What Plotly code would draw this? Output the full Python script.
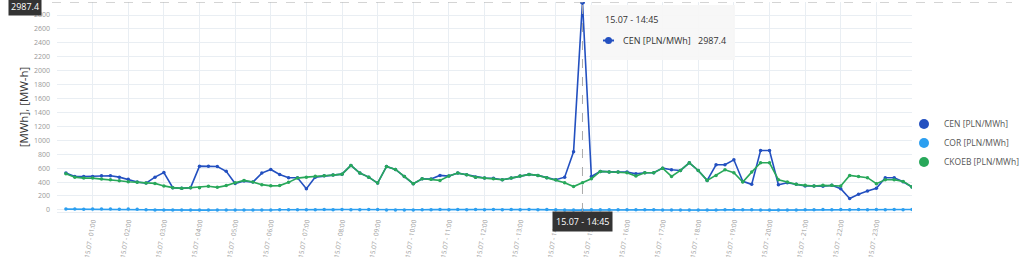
import plotly.graph_objects as go
import pandas as pd

# ---------------- data ----------------
day = "2024-07-15"
times = pd.date_range(f"{day} 00:15", periods=96, freq="15min")

cen = [529, 481, 481, 481, 491, 491, 471, 439, 400, 386, 471, 536,
       320, 310, 320, 629, 629, 624, 555, 380, 414, 400, 529, 581,
       510, 463, 463, 305, 471, 491, 500, 514, 639, 529, 471, 385,
       624, 581, 481, 377, 448, 445, 496, 486, 529, 505, 471, 458,
       455, 434, 457, 486, 510, 496, 463, 434, 470, 836, 2987.4, 481,
       553, 543, 543, 543, 520, 534, 534, 600, 577, 567, 677, 567,
       424, 648, 648, 720, 410, 367, 853, 853, 362, 391, 367, 343,
       343, 339, 353, 305, 163, 224, 272, 310, 463, 463, 405, 329]

cor = [12, 12, 11, 12, 12, 12, 11, 12, 10, 2, 0, -2,
       -3, -2, -3, -2, -3, -2, -3, -2, -3, -2, -3, -2,
       2, 4, 3, 2, 4, 5, 4, 5, 4, 1, 5, 6,
       -1, -2, -3, -2, 3, 4, 5, 4, 5, 4, 5, 4,
       5, 4, 5, 4, 5, 4, 5, 3, -2, -3, -2, 4,
       3, 4, 3, 4, 3, 4, 2, -1, -2, -3, -2, -3,
       -2, -3, 3, 4, 3, 4, -2, -3, -2, -3, -2, 2,
       4, 5, 4, 5, 4, 5, 4, 5, 4, 5, 4, 5]

ckoeb = [519, 471, 457, 457, 443, 434, 420, 405, 396, 386, 381, 345,
         320, 310, 320, 320, 339, 324, 349, 391, 424, 400, 363, 346,
         349, 396, 457, 471, 485, 491, 500, 514, 639, 529, 471, 385,
         624, 581, 481, 377, 448, 439, 424, 486, 529, 505, 471, 457,
         448, 434, 457, 486, 510, 496, 463, 434, 390, 335, 391, 448,
         553, 543, 543, 534, 486, 534, 534, 600, 481, 567, 677, 567,
         424, 496, 577, 534, 400, 543, 677, 677, 434, 400, 367, 353,
         343, 353, 353, 343, 496, 481, 463, 377, 434, 434, 410, 329]

series_names = ["CEN [PLN/MWh]", "COR [PLN/MWh]", "CKOEB [PLN/MWh]"]
series_colors = ["#2350c0", "#2c9ff0", "#28a85a"]

hour_ticks = pd.date_range(f"{day} 01:00", periods=23, freq="1h")
tick_text = [f"15.07 - {t:%H:%M}" for t in hour_ticks]
y_ticks = list(range(0, 3000, 200))

hover_idx = 58
hover_time = times[hover_idx]
hover_label = f"15.07 - {hover_time:%H:%M}"
hover_val = cen[hover_idx]

# ---------------- figure ----------------
W, H = 1024, 260
ML, MR, MT, MB = 57, 112, 2, 48
PW, PH = W - ML - MR, H - MT - MB


def px(xpix):
    return (xpix - ML) / PW


def py(ypix):
    return (H - MB - ypix) / PH


fig = go.Figure()
FONT = "Open Sans"

for vals, name, col in zip([cen, cor, ckoeb], series_names, series_colors):
    fig.add_trace(go.Scatter(
        x=times, y=vals, mode="lines+markers", name=name,
        line=dict(color=col, width=1.6),
        marker=dict(color=col, size=3.5),
        showlegend=False, hoverinfo="skip"))

# legend entries (circle only)
for name, col in zip(series_names, series_colors):
    fig.add_trace(go.Scatter(
        x=[None], y=[None], mode="markers", name=name,
        marker=dict(color=col, size=10), showlegend=True))

# highlighted hover point
fig.add_trace(go.Scatter(
    x=[hover_time], y=[hover_val], mode="markers",
    marker=dict(color=series_colors[0], size=5),
    showlegend=False, hoverinfo="skip"))

grid = "#e9eef3"
fig.update_layout(
    width=W, height=H,
    margin=dict(l=ML, r=MR, t=MT, b=MB, autoexpand=False),
    paper_bgcolor="white", plot_bgcolor="white",
    font=dict(family=FONT, color="#888"),
    showlegend=True,
    legend=dict(x=px(904), y=py(143), xanchor="left", yanchor="middle",
                font=dict(size=8.5, color="#555", family=FONT),
                itemwidth=30, tracegroupgap=0, bgcolor="rgba(0,0,0,0)"),
    xaxis=dict(
        type="date",
        range=[pd.Timestamp(f"{day} 00:00"), pd.Timestamp(f"{day} 00:00") + pd.Timedelta(hours=24)],
        tickmode="array", tickvals=hour_ticks, ticktext=tick_text,
        tickangle=-80, tickfont=dict(size=6.5, color="#999", family=FONT),
        showgrid=True, gridcolor=grid, gridwidth=1,
        showline=True, linecolor=grid, mirror=False,
        zeroline=False, ticks="", automargin=False, ticklabelstandoff=2),
    yaxis=dict(
        range=[-30, 2987.4],
        tickmode="array", tickvals=y_ticks,
        tickfont=dict(size=7, color="#999", family=FONT),
        showgrid=True, gridcolor=grid, gridwidth=1,
        zeroline=False, ticks="", automargin=False, ticklabelstandoff=6,
        title=dict(text="[MWh], [MW-h]", font=dict(size=11.5, color="#333", family=FONT),
                   standoff=2)),
)

# crosshair lines
fig.add_shape(type="line", xref="x", yref="paper", x0=hover_time, x1=hover_time,
              y0=0, y1=1, line=dict(color="#aaa", width=1, dash="dash"), layer="above")
fig.add_shape(type="line", xref="paper", yref="y", x0=px(52), x1=px(1012),
              y0=hover_val, y1=hover_val, line=dict(color="#aaa", width=1, dash="dash"), layer="above")

# tooltip box
fig.add_shape(type="rect", xref="paper", yref="paper",
              x0=px(590), x1=px(735), y0=py(60), y1=py(5),
              fillcolor="rgba(246,246,246,0.92)", line=dict(width=0), layer="above")
fig.add_annotation(xref="paper", yref="paper", x=px(603), y=py(19), text=hover_label,
                   showarrow=False, xanchor="left", yanchor="middle",
                   font=dict(size=9, color="#333", family=FONT))
fig.add_shape(type="line", xref="paper", yref="paper", x0=px(603), x1=px(614),
              y0=py(40.5), y1=py(40.5), line=dict(color=series_colors[0], width=2), layer="above")
fig.add_shape(type="circle", xref="paper", yref="paper", x0=px(605), x1=px(612),
              y0=py(44), y1=py(37), fillcolor=series_colors[0],
              line=dict(width=0), layer="above")
fig.add_annotation(xref="paper", yref="paper", x=px(621), y=py(40.5), text=series_names[0],
                   showarrow=False, xanchor="left", yanchor="middle",
                   font=dict(size=9, color="#333", family=FONT))
fig.add_annotation(xref="paper", yref="paper", x=px(696), y=py(40.5), text=f"{hover_val}",
                   showarrow=False, xanchor="left", yanchor="middle",
                   font=dict(size=9, color="#333", family=FONT))

# crosshair axis labels
fig.add_annotation(xref="paper", yref="paper", x=px(25), y=py(6), text=f"{hover_val}",
                   showarrow=False, xanchor="center", yanchor="middle",
                   bgcolor="#333", borderpad=2, font=dict(size=9, color="white", family=FONT))
fig.add_annotation(xref="x", yref="paper", x=hover_time, y=py(221), text=hover_label,
                   showarrow=False, xanchor="center", yanchor="middle",
                   bgcolor="#333", borderpad=3, font=dict(size=9, color="white", family=FONT))

fig.write_html("out.html")
